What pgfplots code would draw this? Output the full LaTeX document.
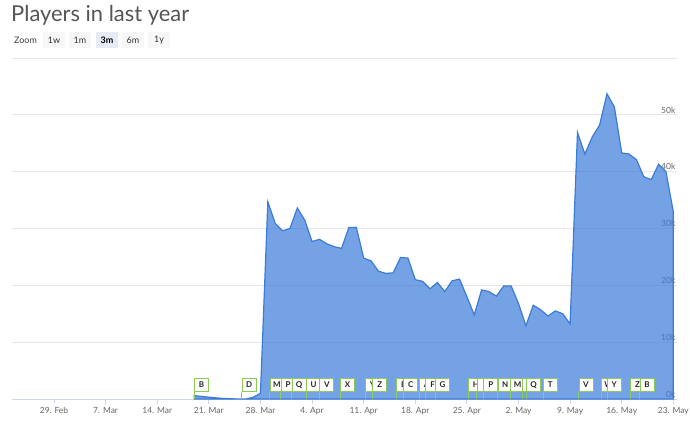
\documentclass[border=0pt]{standalone}
\usepackage{pgfplots}
\pgfplotsset{compat=1.18}
\usepackage{pgfplotstable}
\usepackage{fontspec}
\setmainfont{Lato}
\definecolor{linecol}{HTML}{3A7BD8}
\definecolor{flaggreen}{HTML}{8CCB5A}
\definecolor{gridcol}{HTML}{E6E6E6}
\definecolor{axiscol}{HTML}{CCD6EB}
\definecolor{labelcol}{HTML}{666666}
\definecolor{titlecol}{HTML}{555555}
\definecolor{btnbg}{HTML}{F7F7F7}
\definecolor{btnsel}{HTML}{E6EBF5}

\pgfplotsset{
  layers/labelsontop/.define layer set={axis background,axis grid,main,axis ticks,axis lines,axis tick labels,axis descriptions,axis foreground}{},
}

\pgfplotstableread{
d v
19 600
20 450
21 320
22 200
23 100
24 50
25 0
26 0
27 300
28 1000
29 34700
30 30900
31 29600
32 30000
33 33600
34 31500
35 27700
36 28100
37 27300
38 26800
39 26500
40 30200
41 30200
42 24800
43 24300
44 22500
45 22100
46 22200
47 24900
48 24800
49 21000
50 20700
51 19400
52 20500
53 18900
54 20800
55 21100
56 18000
57 14800
58 19200
59 18900
60 18100
61 19900
62 19900
63 16800
64 12900
65 16500
66 15700
67 14600
68 15500
69 15000
70 13200
71 46900
72 43100
73 46100
74 48200
75 53700
76 51400
77 43300
78 43100
79 42100
80 39100
81 38600
82 41300
83 40000
84 32900
}\areadata

\pgfplotstableread{
d y l
19.00 1230 B
25.47 1230 D
29.24 1230 M
30.73 1230 P
32.25 1230 Q
34.19 1230 U
36.00 1230 V
38.81 1230 X
42.20 1230 Y
43.19 1230 Z
46.40 1230 E
47.39 1230 C
49.53 1230 A
50.34 1230 F
51.70 1230 G
56.21 1230 H
57.35 1230 I
58.25 1230 P
60.20 1230 N
61.87 1230 M
63.46 1230 R
64.04 1230 Q
66.31 1230 T
71.14 1230 V
74.22 1230 W
74.99 1230 Y
78.15 1230 Z
79.42 1230 B
}\flagdata

\begin{document}
\begin{tikzpicture}[x=1bp,y=1bp]
\node[anchor=base west, inner sep=0pt, font=\fontsize{22}{26}\selectfont, text=titlecol] at (11,405) {Players in last year};
\node[anchor=west, inner sep=0pt, font=\fontsize{9}{11}\selectfont, text=black!75] at (14,387) {Zoom};
\fill[btnbg] (43,379) rectangle (65,395);
\fill[btnbg] (69,379) rectangle (91,395);
\fill[btnsel] (96,379) rectangle (118,395);
\fill[btnbg] (122,379) rectangle (144,395);
\fill[btnbg] (148,379) rectangle (170,395);
\node[font=\fontsize{9}{11}\selectfont, text=black!80, inner sep=0pt] at (54,387) {1w};
\node[font=\fontsize{9}{11}\selectfont, text=black!80, inner sep=0pt] at (80,387) {1m};
\node[font=\fontsize{9}{11}\selectfont\bfseries, text=black, inner sep=0pt] at (107,387) {3m};
\node[font=\fontsize{9}{11}\selectfont, text=black!80, inner sep=0pt] at (133,387) {6m};
\node[font=\fontsize{9}{11}\selectfont, text=black!80, inner sep=0pt] at (159,387) {1y};
\begin{axis}[
  set layers=labelsontop,
  at={(12bp,28bp)}, anchor=south west,
  scale only axis, width=665bp, height=341bp,
  xmin=-5.7, xmax=84.5, ymin=0, ymax=60000,
  axis x line*=bottom, axis y line*=right,
  axis line style={-},
  x axis line style={draw=axiscol, line width=0.8bp},
  y axis line style={draw=none},
  xtick={0,7,...,84},
  xticklabels={29. Feb,7. Mar,14. Mar,21. Mar,28. Mar,4. Apr,11. Apr,18. Apr,25. Apr,2. May,9. May,16. May,23. May},
  xtick align=outside,
  major tick length=5bp,
  xtick style={draw=axiscol, line width=0.8bp},
  ytick={0,10000,...,60000},
  yticklabels={0k,10k,20k,30k,40k,50k,{}},
  ytick style={draw=none},
  scaled ticks=false,
  ymajorgrids,
  major grid style={draw=gridcol, line width=0.8bp},
  xticklabel style={font=\fontsize{8.5}{10}\selectfont, text=labelcol},
  yticklabel style={font=\fontsize{8.5}{10}\selectfont, text=labelcol, anchor=south east, inner sep=1.5bp, xshift=0bp},
  clip=false,
]
\addplot[draw=linecol, line width=1.2bp, fill=linecol, fill opacity=0.7, mark=none] table[x=d,y=v] {\areadata} \closedcycle;
\addplot[ycomb, draw=flaggreen, line width=0.8bp, mark=none,
  nodes near coords, point meta=explicit symbolic,
  every node near coord/.style={anchor=south west, draw=flaggreen, fill=white, line width=0.8bp,
     font=\fontsize{8}{10}\selectfont\bfseries, text=black!85, inner sep=0pt,
     minimum width=14bp, minimum height=13bp}]
  table[x=d,y=y,meta=l] {\flagdata};
\end{axis}
\pgfresetboundingbox
\path[use as bounding box] (0,0) rectangle (690,427);
\end{tikzpicture}
\end{document}
